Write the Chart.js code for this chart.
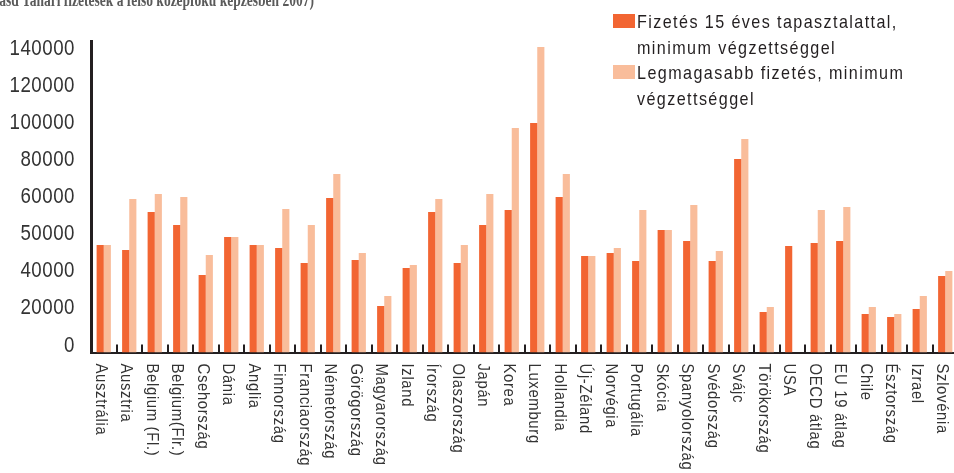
<!DOCTYPE html>
<html>
<head>
<meta charset="utf-8">
<script src="https://cdn.jsdelivr.net/npm/chart.js@4"></script>
<style>
  html, body { margin: 0; padding: 0; background: #fff; }
  #wrap { position: relative; width: 954px; height: 473px; overflow: hidden; }
  #box { position: absolute; left: 0; top: 0; width: 958px; height: 473px; }
  .title { position: absolute; left: -9px; top: -10px; white-space: nowrap; line-height: 18px;
           font: bold 18px 'Liberation Serif', 'DejaVu Serif', serif; color: #5a5a5a;
           transform: scaleX(0.75); transform-origin: left top; }
  .legend { position: absolute; left: 613px; top: 9px; }
  .legend .row { position: relative; height: 51px; white-space: nowrap; }
  .legend .txt { position: absolute; left: 24px; top: 0; display: inline-block;
                 font: 19px 'Liberation Sans', Arial, sans-serif; letter-spacing: 1.65px;
                 line-height: 25.5px; color: #231f20;
                 transform: scaleX(0.85); transform-origin: left top; }
  .legend .sw { position: absolute; left: 0; top: 5px; width: 22px; height: 14px; }
</style>
</head>
<body>
<div id="wrap">
  <div id="box"><canvas id="chart"></canvas></div>
  <div class="title">(lásd Tanári fizetések a felső középfokú képzésben 2007)</div>
  <div class="legend" id="legend"></div>
</div>
<script>
// --- Datos ---
const countries = ['Ausztrália', 'Ausztria', 'Belgium (Fl.)', 'Belgium(Flr.)', 'Csehország', 'Dánia', 'Anglia',
  'Finnország', 'Franciaország', 'Németország', 'Görögország', 'Magyarország', 'Izland', 'Írország',
  'Olaszország', 'Japán', 'Korea', 'Luxemburg', 'Hollandia', 'Új-Zéland', 'Norvégia', 'Portugália',
  'Skócia', 'Spanyolország', 'Svédország', 'Svájc', 'Törökország', 'USA', 'OECD átlag', 'EU 19 átlag',
  'Chile', 'Észtország', 'Izrael', 'Szlovénia'];

const seriesNames = [
  ['Fizetés 15 éves tapasztalattal,', 'minimum végzettséggel'],
  ['Legmagasabb fizetés, minimum', 'végzettséggel']
];

const salary15 = [58000, 55300, 75800, 68800, 41800, 62300, 58000, 56400, 48300, 83300, 49900, 25100,
  45600, 75800, 48300, 68800, 76900, 123800, 83900, 52000, 53700, 49400, 66100, 60100, 49400, 104400,
  21900, 57500, 59100, 60100, 20800, 19200, 23500, 41300];

const salaryTop = [58000, 82800, 85500, 83900, 52600, 62300, 58000, 77400, 68800, 96300, 53700, 30500,
  47200, 82800, 58000, 85500, 121100, 164800, 96300, 52000, 56400, 76900, 66100, 79600, 54800, 115200,
  24500, null, 76900, 78500, 24500, 20800, 30500, 44000];

// feliratok úgy, ahogy a forrásban szerepelnek (egyenlő közökkel)
const yTickLabels = ['0', '20000', '40000', '50000', '60000', '80000', '100000', '120000', '140000'];
const yStep = 20000;

const colors = ['#f26532', '#f9bd9b'];
const axisColor = '#231f20';
const textColor = '#333';
const sans = "'Liberation Sans', Arial, sans-serif";

// --- Leyenda ---
const legend = document.getElementById('legend');
seriesNames.forEach((lines, i) => {
  const row = document.createElement('div');
  row.className = 'row';
  row.innerHTML = `<span class="sw" style="background:${colors[i]}"></span><span class="txt">${lines.join('<br>')}</span>`;
  legend.appendChild(row);
});

// --- Szöveg keskenyítve (condensed) ---
function narrowText(ctx, text, x, y, rot, sx) {
  ctx.save();
  ctx.translate(x, y);
  if (rot) ctx.rotate(rot);
  ctx.scale(sx, 1);
  ctx.fillText(text, 0, 0);
  ctx.restore();
}

// --- Tengelyfeliratok és osztásjelek ---
const axisTextPlugin = {
  id: 'axisText',
  afterDraw(chart) {
    const ctx = chart.ctx;
    const x = chart.scales.x;
    const y = chart.scales.y;
    const area = chart.chartArea;
    ctx.save();

    // kis osztásjelek a kategóriák között, felfelé
    ctx.strokeStyle = axisColor;
    ctx.lineWidth = 2;
    for (let i = 1; i < countries.length; i++) {
      const px = Math.round((x.getPixelForValue(i - 1) + x.getPixelForValue(i)) / 2);
      ctx.beginPath();
      ctx.moveTo(px, area.bottom);
      ctx.lineTo(px, area.bottom - 8);
      ctx.stroke();
    }

    ctx.fillStyle = textColor;

    // y feliratok
    ctx.font = '22px ' + sans;
    ctx.letterSpacing = '0.6px';
    ctx.textAlign = 'right';
    ctx.textBaseline = 'alphabetic';
    yTickLabels.forEach((t, i) => {
      narrowText(ctx, t, area.left - 16, y.getPixelForValue(i * yStep) - 1, 0, 0.85);
    });

    // x feliratok, 90 fokkal elforgatva
    ctx.font = '16px ' + sans;
    ctx.letterSpacing = '0.7px';
    ctx.textAlign = 'left';
    countries.forEach((c, i) => {
      narrowText(ctx, c, x.getPixelForValue(i) - 8, area.bottom + 11, Math.PI / 2, 0.93);
    });
    ctx.restore();
  }
};

new Chart(document.getElementById('chart'), {
  type: 'bar',
  data: {
    labels: countries,
    datasets: [
      { label: seriesNames[0].join(' '), data: salary15, backgroundColor: colors[0] },
      { label: seriesNames[1].join(' '), data: salaryTop, backgroundColor: colors[1] }
    ]
  },
  options: {
    responsive: true,
    maintainAspectRatio: false,
    animation: false,
    categoryPercentage: 0.56,
    barPercentage: 1.0,
    layout: { padding: { top: 41, right: 0, left: 0, bottom: 0 } },
    plugins: {
      legend: { display: false },
      tooltip: { enabled: false }
    },
    scales: {
      x: {
        grid: { display: false, drawTicks: false },
        border: { display: true, color: axisColor, width: 2 },
        ticks: { display: false },
        afterFit: s => { s.height = 120.5; }
      },
      y: {
        min: 0,
        max: 168000,
        grid: { display: false, drawTicks: false },
        border: { display: true, color: axisColor, width: 3 },
        ticks: { display: false, stepSize: yStep },
        afterFit: s => { s.width = 91; }
      }
    }
  },
  plugins: [axisTextPlugin]
});
</script>
</body>
</html>
